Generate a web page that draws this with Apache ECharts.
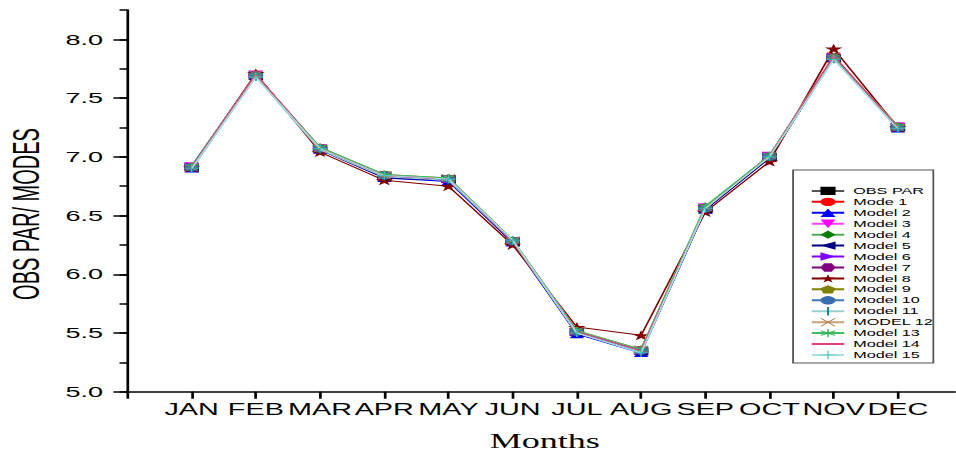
<!DOCTYPE html>
<html>
<head>
<meta charset="utf-8">
<script src="https://cdn.jsdelivr.net/npm/echarts@6/dist/echarts.min.js"></script>
<style>
html,body{margin:0;padding:0;background:#fff;overflow:hidden;}
#wrap{width:956px;height:452px;overflow:hidden;position:relative;}
#c{width:531px;height:452px;transform:scaleX(1.8);transform-origin:0 0;position:absolute;left:0;top:0;}
</style>
</head>
<body>
<div id="wrap"><div id="c"></div></div>
<script>
// ---- data ----
var months = ['JAN','FEB','MAR','APR','MAY','JUN','JUL','AUG','SEP','OCT','NOV','DEC'];
var seriesNames = ['OBS PAR','Mode 1','Model 2','Model 3','Model 4','Model 5','Model 6','Model 7','Model 8','Model 9','Model 10','Model 11','MODEL 12','Model 13','Model 14','Model 15'];
var yMajorTicks = [5.0, 5.5, 6.0, 6.5, 7.0, 7.5, 8.0];

var obsPar  = [6.91, 7.69, 7.07, 6.84, 6.81, 6.28, 5.51, 5.35, 6.56, 7.00, 7.84, 7.25];
var mode1   = [6.91, 7.70, 7.07, 6.83, 6.80, 6.28, 5.50, 5.34, 6.56, 7.00, 7.85, 7.25];
var model2  = [6.90, 7.69, 7.06, 6.82, 6.79, 6.27, 5.49, 5.33, 6.55, 6.99, 7.84, 7.24];
var model3  = [6.92, 7.70, 7.07, 6.83, 6.80, 6.28, 5.50, 5.34, 6.57, 7.01, 7.85, 7.26];
var model4  = [6.91, 7.69, 7.08, 6.84, 6.81, 6.29, 5.51, 5.35, 6.57, 7.00, 7.84, 7.25];
var model5  = [6.90, 7.69, 7.06, 6.82, 6.80, 6.27, 5.50, 5.34, 6.55, 6.99, 7.84, 7.25];
var model6  = [6.92, 7.70, 7.07, 6.83, 6.81, 6.28, 5.51, 5.35, 6.56, 7.01, 7.85, 7.26];
var model7  = [6.91, 7.69, 7.07, 6.84, 6.81, 6.28, 5.51, 5.35, 6.56, 7.00, 7.85, 7.25];
var model8  = [6.91, 7.71, 7.04, 6.80, 6.75, 6.25, 5.55, 5.48, 6.53, 6.96, 7.92, 7.25];
var model9  = [6.92, 7.70, 7.08, 6.85, 6.82, 6.29, 5.52, 5.36, 6.57, 7.01, 7.85, 7.26];
var model10 = [6.91, 7.69, 7.07, 6.84, 6.81, 6.28, 5.51, 5.35, 6.56, 7.00, 7.84, 7.25];
var model11 = [6.90, 7.68, 7.06, 6.83, 6.80, 6.28, 5.50, 5.34, 6.56, 7.00, 7.83, 7.24];
var model12 = [6.91, 7.70, 7.07, 6.84, 6.82, 6.29, 5.52, 5.36, 6.57, 7.01, 7.86, 7.25];
var model13 = [6.92, 7.69, 7.08, 6.85, 6.82, 6.29, 5.52, 5.36, 6.58, 7.01, 7.85, 7.26];
var model14 = [6.91, 7.70, 7.07, 6.84, 6.81, 6.28, 5.51, 5.35, 6.56, 7.00, 7.86, 7.25];
var model15 = [6.90, 7.68, 7.07, 6.84, 6.81, 6.29, 5.50, 5.33, 6.56, 7.00, 7.83, 7.24];

var allValues = [obsPar, mode1, model2, model3, model4, model5, model6, model7, model8, model9, model10, model11, model12, model13, model14, model15];

// ---- styles ----
var STAR = 'path://M50,0 L61,35 L98,35 L68,57 L79,91 L50,70 L21,91 L32,57 L2,35 L39,35 Z';
var HEX = 'path://M25,0 L75,0 L100,50 L75,100 L25,100 L0,50 Z';
var PENT = 'path://M50,0 L100,38 L81,100 L19,100 L0,38 Z';
var VBAR = 'path://M0,0 L0,0 M100,100 L100,100 M44,0 L56,0 L56,100 L44,100 Z';
var XMARK = 'path://M0,6 L6,0 L50,44 L94,0 L100,6 L56,50 L100,94 L94,100 L50,56 L6,100 L0,94 L44,50 Z';
var AST = 'path://M46,0 L54,0 L54,40 L88,20 L92,27 L58,47 L58,53 L92,73 L88,80 L54,60 L54,100 L46,100 L46,60 L12,80 L8,73 L42,53 L42,47 L8,27 L12,20 L46,40 Z';
var PLUS = 'path://M46,0 L54,0 L54,46 L100,46 L100,54 L54,54 L54,100 L46,100 L46,54 L0,54 L0,46 L46,46 Z';

var styles = [
  {line:'#555555', mark:'#000000', sym:'rect', rot:0},
  {line:'#ff0000', mark:'#ff0000', sym:'circle', rot:0},
  {line:'#0000ff', mark:'#0000ff', sym:'triangle', rot:0},
  {line:'#ff40ff', mark:'#ff00ff', sym:'triangle', rot:180},
  {line:'#50b050', mark:'#008000', sym:'diamond', rot:0},
  {line:'#000080', mark:'#000080', sym:'triangle', rot:90},
  {line:'#8000ff', mark:'#8000ff', sym:'triangle', rot:-90},
  {line:'#800080', mark:'#800080', sym:HEX, rot:0},
  {line:'#800000', mark:'#800000', sym:STAR, rot:0},
  {line:'#808000', mark:'#808000', sym:PENT, rot:0},
  {line:'#3c78c0', mark:'#3a6cb0', sym:'circle', rot:0},
  {line:'#98d0d0', mark:'#008080', sym:VBAR, rot:0},
  {line:'#c8a078', mark:'#b07840', sym:XMARK, rot:0},
  {line:'#40c060', mark:'#30b050', sym:AST, rot:0},
  {line:'#e04080', mark:'rgba(0,0,0,0)', sym:'circle', rot:0},
  {line:'#a0e0e0', mark:'#40c0c0', sym:PLUS, rot:0}
];

var series = seriesNames.map(function(name, k){
  var st = styles[k];
  return {
    name: name,
    type: 'line',
    xAxisIndex: 0,
    yAxisIndex: 0,
    data: allValues[k].map(function(v, i){ return [i + 1, v]; }),
    symbol: st.sym,
    symbolRotate: st.rot,
    symbolSize: k === 8 ? 10 : 8,
    lineStyle: {color: st.line, width: 1},
    itemStyle: {color: st.mark, borderWidth: 0},
    emphasis: {disabled: true},
    animation: false,
    z: 2 + k
  };
});

var chart = echarts.init(document.getElementById('c'), null, {renderer: 'svg'});
chart.setOption({
  animation: false,
  backgroundColor: '#ffffff',
  grid: {left: 70.8, top: 10, width: 463.7, height: 381.7, containLabel: false, outerBoundsMode: 'none'},
  xAxis: [{
    type: 'value', min: 0, max: 13, interval: 1,
    axisLine: {show: true, lineStyle: {color: '#000', width: 1.5}},
    axisTick: {show: true, length: 7, lineStyle: {color: '#000', width: 1.5}},
    splitLine: {show: false},
    axisLabel: {
      margin: 10, fontSize: 16, color: '#000', fontFamily: 'Liberation Sans, Arial, sans-serif',
      formatter: function(v){ return (v >= 1 && v <= 12) ? months[v - 1] : ''; }
    },
    name: 'Months', nameLocation: 'middle', nameGap: 39,
    nameTextStyle: {fontSize: 20, color: '#000', fontFamily: 'Liberation Serif, Times New Roman, serif'}
  }],
  yAxis: [{
    type: 'value', min: 5, max: 8.25, interval: 0.25, position: 'left',
    axisLine: {show: true, lineStyle: {color: '#000', width: 1.5}},
    axisTick: {show: true, length: 4.4, lineStyle: {color: '#000', width: 1.5}},
    splitLine: {show: false},
    axisLabel: {
      margin: 13.5, fontSize: 15, color: '#000', fontFamily: 'Liberation Sans, Arial, sans-serif',
      formatter: function(v){
        for (var i = 0; i < yMajorTicks.length; i++) { if (Math.abs(yMajorTicks[i] - v) < 1e-6) return yMajorTicks[i].toFixed(1); }
        return '';
      }
    }
  }, {
    type: 'value', min: 5, max: 8.25, position: 'left',
    axisLine: {show: false},
    axisTick: {show: true, length: 7.8, customValues: yMajorTicks, lineStyle: {color: '#000', width: 1.5}},
    axisLabel: {show: false},
    splitLine: {show: false}
  }],
  legend: {
    orient: 'vertical', left: 440.6, top: 170,
    data: seriesNames,
    itemWidth: 18, itemHeight: 10.5, itemGap: 1.94,
    padding: [16.4, 0, 3.4, 9.4],
    borderColor: '#555', borderWidth: 1, backgroundColor: '#fff',
    selectedMode: false,
    textStyle: {fontSize: 9, color: '#000', fontFamily: 'Liberation Sans, Arial, sans-serif'}
  },
  graphic: [{
    type: 'text', x: 14.7, y: 214, rotation: Math.PI / 2,
    style: {text: 'OBS PAR/ MODES', fontSize: 20, fontFamily: 'Liberation Sans, Arial, sans-serif', fill: '#000', textAlign: 'center', textVerticalAlign: 'middle'}
  }],
  series: series
});
</script>
</body>
</html>
